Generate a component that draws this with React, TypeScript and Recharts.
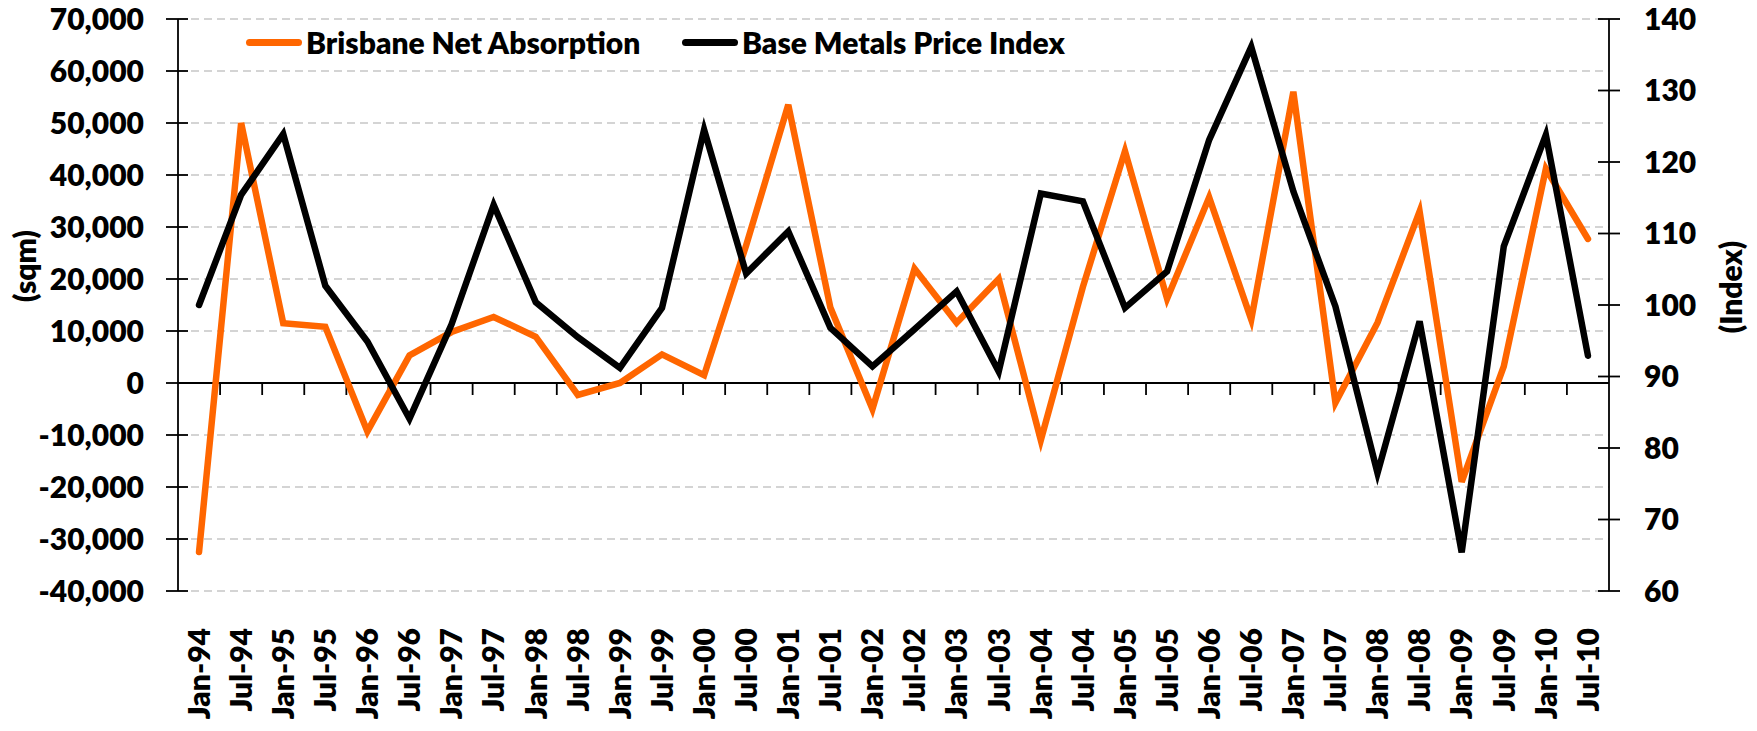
import {
  ComposedChart,
  Line,
  XAxis,
  YAxis,
  CartesianGrid,
  ReferenceLine,
  Legend,
} from "recharts";

const periods = [
  "Jan-94", "Jul-94", "Jan-95", "Jul-95", "Jan-96", "Jul-96", "Jan-97", "Jul-97",
  "Jan-98", "Jul-98", "Jan-99", "Jul-99", "Jan-00", "Jul-00", "Jan-01", "Jul-01",
  "Jan-02", "Jul-02", "Jan-03", "Jul-03", "Jan-04", "Jul-04", "Jan-05", "Jul-05",
  "Jan-06", "Jul-06", "Jan-07", "Jul-07", "Jan-08", "Jul-08", "Jan-09", "Jul-09",
  "Jan-10", "Jul-10",
];

// Brisbane net absorption (sqm), left axis
const absorption = [
  -32500, 50000, 11500, 10800, -9300, 5300, 9800, 12700,
  8900, -2300, 0, 5500, 1500, 26500, 53500, 14500,
  -5000, 22000, 11600, 20000, -11000, 18500, 44600, 16200,
  35700, 12200, 56000, -3800, 11600, 33000, -19000, 3200,
  41200, 27700,
];

// Base metals price index, right axis
const metals = [
  100.0, 115.4, 123.9, 102.7, 94.9, 84.1, 97.3, 114.0,
  100.4, 95.5, 91.2, 99.6, 124.5, 104.4, 110.3, 96.8,
  91.4, 96.6, 101.9, 90.7, 115.6, 114.5, 99.6, 104.7,
  123.1, 136.1, 115.9, 99.8, 76.5, 97.7, 65.4, 108.2,
  123.8, 92.9,
];

const leftTicks = [-40000, -30000, -20000, -10000, 0, 10000, 20000, 30000, 40000, 50000, 60000, 70000];
const rightTicks = [60, 70, 80, 90, 100, 110, 120, 130, 140];

const seriesNames = ["Brisbane Net Absorption", "Base Metals Price Index"];
const ORANGE = "#FF6600";
const FONT = "Lato, 'Open Sans', sans-serif";

const data = periods.map((p, i) => ({
  period: p,
  absorption: absorption[i],
  metals: metals[i],
}));

const textStyle = {
  fontFamily: FONT,
  fontWeight: 800,
  fontSize: 30,
  fill: "#000",
};

function LeftTick(props: any) {
  const {x, y, payload} = props;
  const axisX = x + 34;
  return (
    <g>
      <line x1={axisX} x2={axisX + 10} y1={y} y2={y} stroke="#000" strokeWidth={1.8} />
      <text x={x} y={y} dy="0.36em" textAnchor="end" style={textStyle}>
        {payload.value.toLocaleString("en-US")}
      </text>
    </g>
  );
}

function RightTick(props: any) {
  const {x, y, payload} = props;
  const axisX = x - 35;
  return (
    <g>
      <line x1={axisX - 11} x2={axisX} y1={y} y2={y} stroke="#000" strokeWidth={1.8} />
      <text x={x} y={y} dy="0.36em" textAnchor="start" style={textStyle}>
        {payload.value}
      </text>
    </g>
  );
}

function PeriodTick(props: any) {
  const {x, y, payload} = props;
  return (
    <text
      x={x}
      y={y}
      dy="0.36em"
      textAnchor="end"
      transform={`rotate(-90, ${x}, ${y})`}
      style={textStyle}
    >
      {payload.value}
    </text>
  );
}

// zero line of the category axis, with tick marks between categories
function ZeroLine(props: any) {
  const {x1, x2, y1} = props;
  const step = (x2 - x1) / periods.length;
  const marks = [];
  for (let i = 1; i < periods.length; i++) {
    const x = x1 + step * i;
    marks.push(<line key={i} x1={x} x2={x} y1={y1} y2={y1 + 12} stroke="#000" strokeWidth={1.8} />);
  }
  return (
    <g>
      <line x1={x1} x2={x2} y1={y1} y2={y1} stroke="#000" strokeWidth={2} />
      {marks}
    </g>
  );
}

function LegendContent() {
  const colors = [ORANGE, "#000"];
  return (
    <div style={{display: "flex", alignItems: "center", fontFamily: FONT, fontWeight: 800, fontSize: 30}}>
      {seriesNames.map((name, i) => (
        <div key={name} style={{display: "flex", alignItems: "center", width: i === 0 ? 436 : undefined}}>
          <div style={{width: 56, height: 7, borderRadius: 3.5, background: colors[i], marginRight: 4}} />
          <span style={{color: "#000", lineHeight: "36px"}}>{name}</span>
        </div>
      ))}
    </div>
  );
}

export default function App() {
  return (
    <div style={{position: "absolute", left: 0, top: 0, background: "#fff"}}>
      <ComposedChart
        width={1757}
        height={731}
        data={data}
        margin={{top: 19, right: 0, bottom: 0, left: 0}}
      >
        <CartesianGrid
          yAxisId="left"
          vertical={false}
          stroke="#c6c6c6"
          strokeWidth={1.5}
          strokeDasharray="8 5"
        />
        <XAxis
          dataKey="period"
          scale="band"
          height={140}
          interval={0}
          axisLine={false}
          tickLine={false}
          tickSize={0}
          tickMargin={37}
          tick={<PeriodTick />}
        />
        <YAxis
          yAxisId="left"
          width={178}
          domain={[-40000, 70000]}
          ticks={leftTicks}
          interval={0}
          tickSize={12}
          tickMargin={22}
          axisLine={{stroke: "#000", strokeWidth: 1.8}}
          tickLine={{stroke: "#000", strokeWidth: 1.8}}
          tick={<LeftTick />}
          label={{
            content: (p: any) => (
              <text
                x={p.viewBox.x + 25}
                y={p.viewBox.y + 247}
                dy="0.36em"
                textAnchor="middle"
                transform={`rotate(-90, ${p.viewBox.x + 25}, ${p.viewBox.y + 247})`}
                style={textStyle}
              >
                (sqm)
              </text>
            ),
          }}
        />
        <YAxis
          yAxisId="right"
          orientation="right"
          width={148}
          domain={[60, 140]}
          ticks={rightTicks}
          interval={0}
          tickSize={11}
          tickMargin={24}
          axisLine={{stroke: "#000", strokeWidth: 1.8}}
          tickLine={{stroke: "#000", strokeWidth: 1.8}}
          tick={<RightTick />}
          label={{
            content: (p: any) => (
              <text
                x={p.viewBox.x + 122}
                y={p.viewBox.y + 268}
                dy="0.36em"
                textAnchor="middle"
                transform={`rotate(-90, ${p.viewBox.x + 122}, ${p.viewBox.y + 268})`}
                style={textStyle}
              >
                (Index)
              </text>
            ),
          }}
        />
        <ReferenceLine yAxisId="left" y={0} shape={ZeroLine} />
        <Line
          yAxisId="left"
          type="linear"
          dataKey="absorption"
          name={seriesNames[0]}
          stroke={ORANGE}
          strokeWidth={6.5}
          strokeLinecap="round"
          dot={false}
          isAnimationActive={false}
        />
        <Line
          yAxisId="right"
          type="linear"
          dataKey="metals"
          name={seriesNames[1]}
          stroke="#000"
          strokeWidth={6.5}
          strokeLinecap="round"
          dot={false}
          isAnimationActive={false}
        />
        <Legend
          verticalAlign="middle"
          layout="horizontal"
          content={<LegendContent />}
          wrapperStyle={{left: 246, top: 24, width: 900, height: 36}}
        />
      </ComposedChart>
    </div>
  );
}
